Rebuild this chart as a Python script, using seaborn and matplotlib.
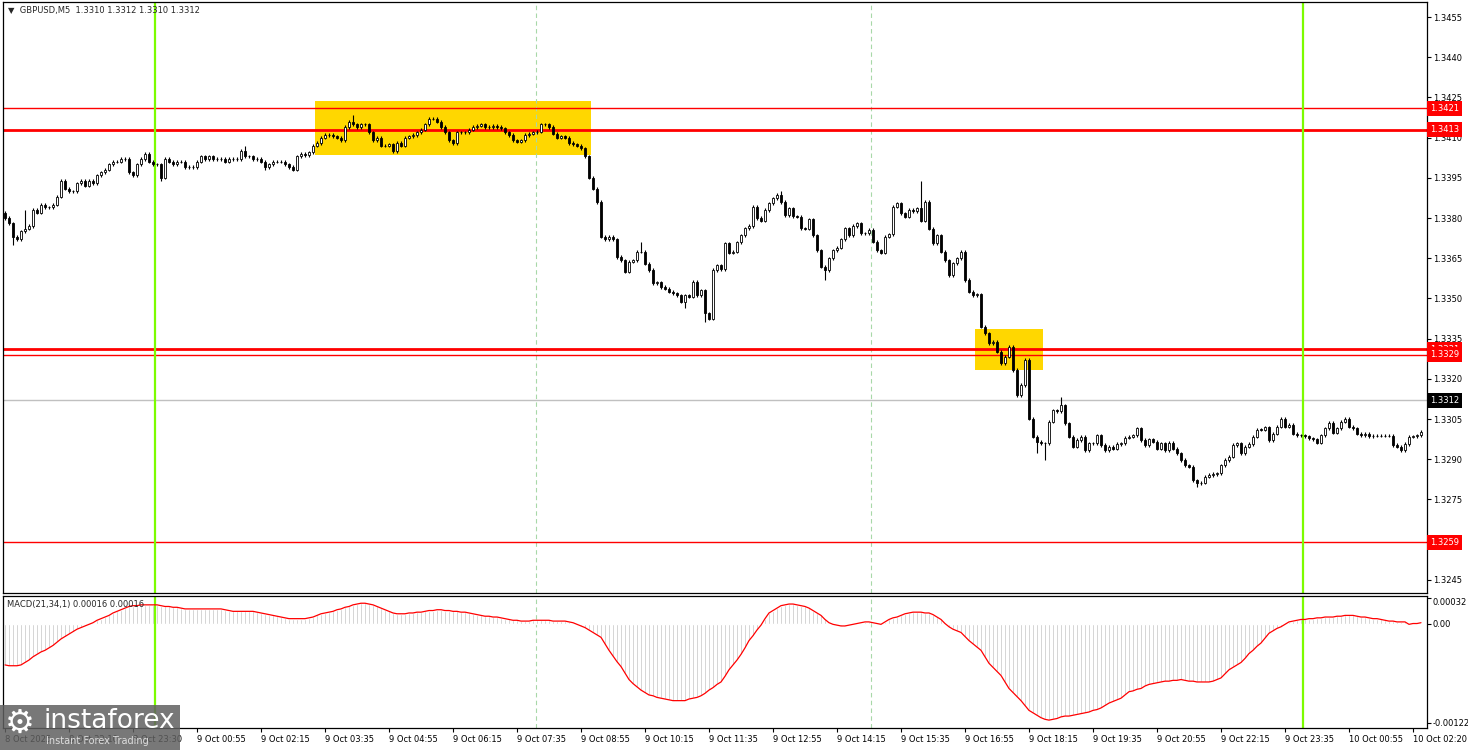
import numpy as np
import pandas as pd
import matplotlib
matplotlib.use("Agg")
import matplotlib.pyplot as plt
import matplotlib.transforms as mtransforms
from matplotlib.patches import Rectangle
import seaborn as sns

# GBPUSD M5 closes, in pips above 1.3300 (one value per bar)
closes = [
    80, 78, 73, 72, 75, 76, 77, 83, 82, 85, 84,
    84, 85, 88, 94, 91, 90, 90, 93, 94, 92,
    94, 93, 96, 97, 98, 100, 101, 101, 102, 102,
    97, 96, 100, 102, 104, 101, 100, 100, 95, 102,
    101, 100, 101, 101, 99, 99, 99, 101, 103, 102,
    103, 102, 102, 102, 101, 102, 102, 102, 105, 103,
    103, 102, 102, 101, 99, 100, 101, 101, 101, 100,
    99, 98, 103, 104, 103.5, 104.5, 107, 108, 110, 111,
    111, 110.5, 110, 109, 114, 116, 115, 114, 115, 115,
    112, 109, 110, 107, 107, 107.5, 105, 108, 107, 110,
    110.5, 111, 112, 113, 115, 117, 117, 116, 114, 112,
    109, 108, 112, 112, 112, 113, 114, 114.5, 115, 114,
    114, 114.3, 114, 113.5, 112, 111, 109, 108.5, 109, 111,
    111.5, 112, 112.2, 115, 115, 114, 111.5, 110, 110.5, 110,
    108, 107.5, 107, 106, 103, 95, 91, 86, 73, 72,
    73, 72, 65.5, 64.3, 60, 63.7, 64.3, 67.4, 67.4, 63,
    60.6, 55.6, 56, 54.3, 53.7, 52.5, 51.9, 51.2, 48.8, 51.2,
    50.6, 56.2, 51.2, 53.1, 44.4, 42.5, 60.6, 62.4, 61, 70.5,
    67, 67.5, 71, 73.6, 76.1, 77, 84.2, 80, 79, 83,
    85.5, 87.3, 88.6, 86, 81.1, 83.6, 80.7, 80.5, 76.1, 76,
    79.5, 73.6, 68, 61.8, 60.6, 65, 68, 69, 72, 76.1,
    73.6, 77, 78, 74.3, 74.3, 75.5, 71.2, 68, 67, 73,
    74, 84.2, 85.5, 81.7, 80.5, 83, 82.5, 83.6, 79, 86,
    76, 70.5, 73.6, 67.4, 64.3, 58.7, 63.1, 65, 67.4, 56.9,
    52.5, 51.3, 51.5, 39.4, 37, 33.2, 33.8, 30.1, 25.8, 28.2,
    32, 23.3, 14, 17.7, 27, 5.2, -1.6, -3.5, -4, -4,
    4, 8.3, 8, 10.2, 3.4, -1.6, -5.3, -2.8, -1.6, -6.6,
    -4.1, -4, -1, -4.7, -6.6, -5.3, -6, -4.3, -4, -1.9,
    -1.6, -1, 1.5, -2.8, -4.7, -2.6, -3.5, -6, -4, -6.6,
    -3.8, -6, -7.8, -10.3, -12.2, -12.8, -17.8, -19, -18.8, -16.5,
    -15.9, -15.5, -15.3, -12.2, -10.3, -9.1, -4.7, -4.1, -7.8, -5.3,
    -4.3, -1.6, 1.1, 1.1, 1.9, -2.8, -0.4, 2.1, 5.2, 2.1,
    2.8, -0.4, -1, -1, -1.4, -2.2, -2.6, -3.8, -1, 1.5,
    3.6, -0.1, 1.5, 4, 5.2, 2.1, 1.5, -0.4, -1, -0.6,
    -1.4, -1.2, -1.2, -1.2, -1.2, -1.2, -4.7, -5.3, -6.6, -4.3,
    -1.6, -1.4, -1, 0.3,
]
first_open = 82
# long wicks (pips above 1.3300)
wick_high = {5: 83, 60: 107, 87: 118.4, 159: 71, 194: 90, 229: 94, 264: 13.3}
wick_low = {2: 70, 39: 94, 65: 97.9, 170: 46.5, 175: 41.3, 205: 56.9,
            258: -7.8, 260: -10.3, 298: -20.5}

# MACD(21,34,1), units of 1e-5
macd_vals = [
    -51, -52, -52, -52, -51, -48, -45, -41, -38, -35, -33,
    -30, -27, -23, -19, -16, -13, -10, -7, -5, -3,
    -1, 1, 4, 6, 8, 10, 13, 15, 17, 19,
    21, 22, 22, 23, 23, 23, 23, 23, 22, 21,
    21, 20, 20, 19, 18, 18, 18, 18, 18, 18,
    18, 18, 18, 18, 17, 16, 15, 15, 15, 15,
    15, 15, 14, 13, 12, 11, 10, 9, 8, 7,
    6, 6, 6, 6, 6, 7, 8, 10, 12, 13,
    14, 15, 17, 18, 20, 21, 23, 24, 25, 25,
    24, 23, 21, 19, 17, 15, 13, 12, 12, 12,
    13, 13, 14, 14, 15, 16, 16, 17, 17, 16,
    16, 15, 15, 14, 14, 13, 12, 11, 10, 9,
    9, 8, 8, 7, 6, 5, 4, 4, 3, 3,
    3, 4, 4, 4, 4, 4, 3, 3, 3, 3,
    2, 1, -1, -3, -5, -8, -11, -14, -17, -25,
    -33, -40, -47, -53, -61, -69, -74, -78, -82, -85,
    -88, -89, -91, -92, -93, -94, -95, -95, -95, -95,
    -93, -92, -91, -89, -86, -82, -79, -75, -72, -65,
    -57, -51, -45, -38, -30, -21, -15, -8, -2, 6,
    13, 16, 19, 22, 23, 24, 24, 23, 22, 21,
    19, 16, 13, 10, 5, 1, -1, -2, -3, -3,
    -2, -1, 0, 1, 2, 2, 1, 0, -1, 2,
    5, 7, 8, 10, 12, 13, 14, 14, 14, 13,
    13, 11, 8, 5, 0, -4, -7, -9, -11, -16,
    -21, -25, -29, -33, -41, -49, -54, -59, -64, -72,
    -80, -85, -90, -95, -101, -107, -110, -113, -116, -118,
    -119, -118, -117, -115, -114, -114, -113, -112, -111, -110,
    -109, -107, -106, -104, -101, -98, -96, -94, -92, -88,
    -84, -83, -81, -80, -77, -75, -74, -73, -72, -71,
    -71, -70, -70, -69, -70, -71, -71, -72, -72, -72,
    -72, -71, -69, -67, -62, -57, -54, -51, -48, -43,
    -37, -33, -28, -24, -18, -12, -9, -6, -4, -1,
    2, 3, 4, 5, 5, 6, 6, 7, 7, 8,
    8, 8, 9, 9, 10, 10, 10, 9, 8, 8,
    7, 6, 6, 5, 4, 3, 3, 2, 2, 2,
    -1, 0, 0, 1,
]

time_labels = ["8 Oct 2025", "8 Oct 22:10", "8 Oct 23:30", "9 Oct 00:55", "9 Oct 02:15",
               "9 Oct 03:35", "9 Oct 04:55", "9 Oct 06:15", "9 Oct 07:35", "9 Oct 08:55",
               "9 Oct 10:15", "9 Oct 11:35", "9 Oct 12:55", "9 Oct 14:15", "9 Oct 15:35",
               "9 Oct 16:55", "9 Oct 18:15", "9 Oct 19:35", "9 Oct 20:55", "9 Oct 22:15",
               "9 Oct 23:35", "10 Oct 00:55", "10 Oct 02:20"]

thick_levels = [1.3413, 1.3331]
thin_levels = [1.3421, 1.3329, 1.3259]
bid = 1.3312
green_bars = [37.5, 324.5]
dash_bars = [132.75, 216.5]
boxes = [(77.5, 146.5, 1.34035, 1.34237), (242.5, 259.5, 1.33233, 1.33386)]

assert len(closes) == len(macd_vals)

sns.set_style("white")
plt.rcParams['font.family'] = ['DejaVu Sans']
fs = 6.0

n = len(closes)
df = pd.DataFrame({"bar": np.arange(n), "close": 1.33 + np.array(closes) / 1e4})
df["open"] = df["close"].shift(1)
df.loc[0, "open"] = 1.33 + first_open / 1e4
df["top"] = df[["open", "close"]].max(axis=1)
df["bot"] = df[["open", "close"]].min(axis=1)
df["high"] = df["top"] + 0.6e-4
df["low"] = df["bot"] - 0.6e-4
for k, v in wick_high.items():
    df.loc[k, "high"] = max(df.loc[k, "high"], 1.33 + v / 1e4)
for k, v in wick_low.items():
    df.loc[k, "low"] = min(df.loc[k, "low"], 1.33 + v / 1e4)
df["macd"] = np.array(macd_vals) * 1e-5

W, H = 1468, 750
fig = plt.figure(figsize=(W / 100, H / 100), dpi=100)
ax = fig.add_axes([2.5 / W, (H - 593) / H, 1424 / W, 591 / H])
ax2 = fig.add_axes([2.5 / W, (H - 728) / H, 1424 / W, 132 / H])

xmin = -0.625
xmax = xmin + 1424 / 4

# main price panel
for x0, x1, y0, y1 in boxes:
    ax.add_patch(Rectangle((x0, y0), x1 - x0, y1 - y0, fc="#FFD700", ec="none", zorder=1))
for b in dash_bars:
    ax.axvline(b, color="#A8D8A8", lw=0.8, ls=(0, (4, 3)), zorder=1.5)
    ax2.axvline(b, color="#A8D8A8", lw=0.8, ls=(0, (4, 3)), zorder=1.5)
ax.axhline(bid, color="#C0C0C0", lw=1, zorder=2)
for lv in thin_levels:
    ax.axhline(lv, color="red", lw=1, zorder=2)
for lv in thick_levels:
    ax.axhline(lv, color="red", lw=2, zorder=2)
for b in green_bars:
    ax.axvline(b, color="#7CFC00", lw=1.6, zorder=2.5)
    ax2.axvline(b, color="#7CFC00", lw=1.6, zorder=2.5)

ax.vlines(df["bar"], df["low"], df["high"], color="black", lw=0.8, zorder=4)
body_col = np.where(df["close"] > df["open"], "white", "black")
body_h = (df["top"] - df["bot"]).clip(lower=0.02e-4)
ax.bar(df["bar"], body_h, bottom=df["bot"], width=0.6, color=body_col,
       edgecolor="black", linewidth=0.6, zorder=5)

ax.set_xlim(xmin, xmax)
ax.set_ylim(1.32401, 1.34606)
ax.set_xticks([])
yt = np.round(np.arange(1.3245, 1.3456, 0.0015), 4)
ax.set_yticks(yt)
ax.set_yticklabels([f"{v:.4f}" for v in yt])
ax.yaxis.tick_right()
ax.tick_params(axis="y", right=True, left=False, direction="out", length=3, width=0.8,
               labelsize=fs, pad=1.5, colors="black")

trans = mtransforms.blended_transform_factory(ax.transAxes, ax.transData)
for price, fc in [(1.3421, "red"), (1.3413, "red"), (1.3331, "red"), (1.3329, "red"),
                  (1.3259, "red"), (bid, "black")]:
    ax.text(1.0022, price, f"{price:.4f}", transform=trans, ha="left", va="center",
            fontsize=fs, color="white", clip_on=False, zorder=10,
            bbox=dict(boxstyle="square,pad=0.35", fc=fc, ec="none"))

# MACD panel
ax2.bar(df["bar"], df["macd"], width=0.6, color="#BDBDBD", zorder=2)
sns.lineplot(x=df["bar"], y=df["macd"], ax=ax2, color="red", lw=0.9, zorder=3)
ax2.set_xlim(xmin, xmax)
ax2.set_ylim(-128.7e-5, 33.9e-5)
ax2.set_xlabel("")
ax2.set_ylabel("")
ax2.set_yticks([32e-5, 0, -122e-5])
ax2.set_yticklabels(["0.00032", "0.00", "-0.00122"])
ax2.yaxis.tick_right()
ax2.tick_params(axis="y", right=True, left=False, direction="out", length=3, width=0.8,
                labelsize=fs, pad=1.5, colors="black")
ax2.get_yticklabels()[0].set_va("top")
ax2.set_xticks(np.arange(0, 16 * len(time_labels), 16))
ax2.set_xticklabels(time_labels)
ax2.tick_params(axis="x", bottom=True, direction="out", length=3, width=0.8,
                labelsize=fs, pad=2, colors="black")
for lab in ax2.get_xticklabels():
    lab.set_ha("left")

for a in (ax, ax2):
    for sp in a.spines.values():
        sp.set_color("black")
        sp.set_linewidth(0.9)

fig.text(8 / W, 1 - 10 / H, "\u25bc  GBPUSD,M5  1.3310 1.3312 1.3310 1.3312",
         fontsize=fs, va="center", ha="left")
fig.text(7 / W, 1 - 604 / H, "MACD(21,34,1) 0.00016 0.00016", fontsize=fs,
         va="center", ha="left")

# watermark
fig.patches.append(Rectangle((0, 0), 180 / W, 45 / H, transform=fig.transFigure,
                             fc="#606060", ec="none", alpha=0.85, zorder=20))
fig.text(5 / W, 1 - 723 / H, "\u2699", fontsize=24, color="white", va="center",
         ha="left", zorder=21)
fig.text(44 / W, 1 - 721 / H, "instaforex", fontsize=19, color="white", va="center",
         ha="left", zorder=21)
fig.text(46 / W, 1 - 741 / H, "Instant Forex Trading", fontsize=7, color="#dddddd",
         va="center", ha="left", zorder=21)

fig.savefig("out.png", dpi=100, facecolor="white")
